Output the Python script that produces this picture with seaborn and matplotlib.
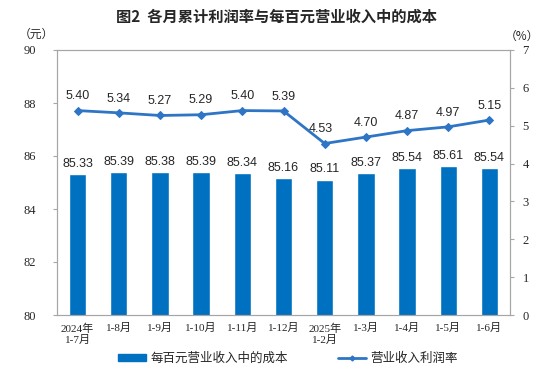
import matplotlib
matplotlib.use("Agg")
import matplotlib.pyplot as plt
import numpy as np
import pandas as pd
import seaborn as sns
from matplotlib.lines import Line2D
from matplotlib.patches import Patch

# 数据
months = ["2024年\n1-7月", "1-8月", "1-9月", "1-10月", "1-11月", "1-12月",
          "2025年\n1-2月", "1-3月", "1-4月", "1-5月", "1-6月"]
cost_per_100 = [85.33, 85.39, 85.38, 85.39, 85.34, 85.16,
                85.11, 85.37, 85.54, 85.61, 85.54]
profit_rate = [5.40, 5.34, 5.27, 5.29, 5.40, 5.39,
               4.53, 4.70, 4.87, 4.97, 5.15]

df = pd.DataFrame({"month": months, "cost": cost_per_100, "rate": profit_rate})
df["pos"] = np.arange(len(df))

sns.set_style("white")
serif = ["Liberation Serif", "Noto Sans CJK SC", "DejaVu Sans"]
cjk = ["Noto Sans CJK SC", "DejaVu Sans"]
plt.rcParams["font.family"] = serif

bar_color = "#0070C0"
line_color = "#2E75C6"
spine_color = "#A6A6A6"

fig = plt.figure(figsize=(5.54, 3.77), dpi=100)
ax = fig.add_axes([57 / 554, 1 - 315 / 377, (510 - 57) / 554, (315 - 50) / 377])

sns.barplot(data=df, x="month", y="cost", color=bar_color, width=0.42,
            saturation=1, ax=ax)
ax.set_ylim(80, 90)
ax.set_yticks(range(80, 91, 2))
ax.set_xlim(-0.5, len(df) - 0.5)
ax.set_xlabel("")
ax.set_ylabel("")

ax2 = ax.twinx()
sns.lineplot(data=df, x="pos", y="rate", color=line_color, marker="D",
             markersize=4.5, markeredgecolor=line_color, linewidth=2, ax=ax2)
ax2.set_ylim(0, 7)
ax2.set_yticks(range(0, 8))
ax2.set_ylabel("")
ax2.set_xlim(-0.5, len(df) - 0.5)

# 数据标签
for p, v in zip(df["pos"], df["cost"]):
    ax.annotate(f"{v:.2f}", (p, v), xytext=(0, 3), textcoords="offset points",
                ha="center", va="bottom", fontsize=9, family="Liberation Sans")
for p, v in zip(df["pos"], df["rate"]):
    dx = -3 if p == 6 else 0
    ax2.annotate(f"{v:.2f}", (p, v), xytext=(dx, 6), textcoords="offset points",
                 ha="center", va="bottom", fontsize=9, family="Liberation Sans")

for a in (ax, ax2):
    for s in a.spines.values():
        s.set_color(spine_color)
        s.set_linewidth(0.8)
ax.tick_params(axis="y", direction="out", length=3, color=spine_color,
               labelsize=9, pad=12)
ax2.tick_params(axis="y", direction="out", length=3, color=spine_color,
                labelsize=9, pad=6)
ax.tick_params(axis="x", length=0, labelsize=8, pad=6)
for lbl in ax.get_xticklabels() + ax.get_yticklabels() + ax2.get_yticklabels():
    lbl.set_fontfamily(serif)

fig.text(277 / 554, 1 - 17 / 377, "图2  各月累计利润率与每百元营业收入中的成本",
         ha="center", va="center", fontsize=11, fontweight="bold", family=cjk)
fig.text(36 / 554, 1 - 34 / 377, "（元）", ha="center", va="center", fontsize=8.5,
         family=cjk)
fig.text(522 / 554, 1 - 36 / 377, "（%）", ha="center", va="center", fontsize=8.5,
         family=cjk)

handles = [Patch(facecolor=bar_color, edgecolor=bar_color),
           Line2D([0], [0], color=line_color, marker="D", markersize=2.5, linewidth=2)]
fig.legend(handles, ["每百元营业收入中的成本", "营业收入利润率"],
           loc="center", bbox_to_anchor=(288 / 554, 1 - 358 / 377), ncol=2,
           frameon=False, columnspacing=4, handlelength=2.2, handletextpad=0.4,
           handleheight=0.5, prop={"family": cjk, "size": 9})

fig.savefig("out.png", dpi=100)
